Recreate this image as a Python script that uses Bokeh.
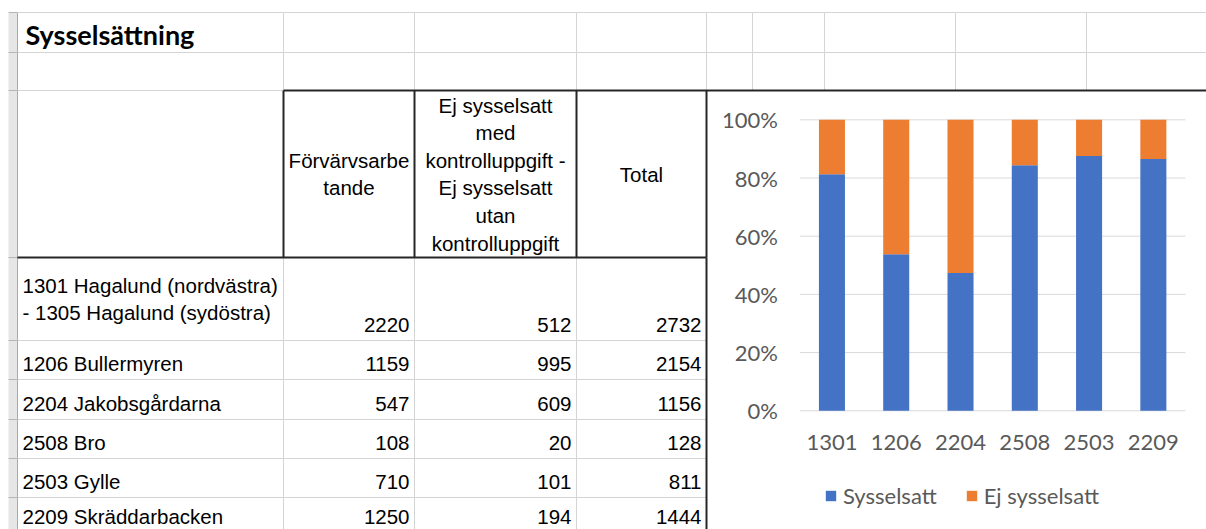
from bokeh.plotting import figure
from bokeh.models import Range1d, ColumnDataSource, Legend, LegendItem
from bokeh.core.properties import value
from bokeh.embed import file_html
from bokeh.resources import INLINE

# ---------------- data ----------------
title = "Sysselsättning"
header_b = ["Förvärvsarbe", "tande"]
header_c = ["Ej sysselsatt", "med", "kontrolluppgift -", "Ej sysselsatt", "utan", "kontrolluppgift"]
header_d = ["Total"]
area_lines = [
    ["1301 Hagalund (nordvästra)", "- 1305 Hagalund (sydöstra)"],
    ["1206 Bullermyren"],
    ["2204 Jakobsgårdarna"],
    ["2508 Bro"],
    ["2503 Gylle"],
    ["2209 Skräddarbacken"],
]
codes = ["1301", "1206", "2204", "2508", "2503", "2209"]
forvarvsarbetande = [2220, 1159, 547, 108, 710, 1250]
ej_sysselsatt = [512, 995, 609, 20, 101, 194]
total = [2732, 2154, 1156, 128, 811, 1444]
series_names = ["Sysselsatt", "Ej sysselsatt"]
pct_ticks = [0.0, 0.2, 0.4, 0.6, 0.8, 1.0]
pct_labels = ["0%", "20%", "40%", "60%", "80%", "100%"]

# ---------------- layout (sheet pixel grid) ----------------
W, H = 1206, 529
XL, XR, YT, YB = 0, W, 0, H
GUT_L, GUT_R = 8, 17
COLS = [17, 283, 414, 576, 706]
TOP_ROWS = [12, 52, 90]
HEAD_BOT = 257
ROW_BOT = [340, 379, 419, 458, 497, 536]
TEXT_MID = [324, 363, 403, 442, 481, 516]   # vertical text positions of the body rows
EXTRA_V = [752, 824, 955, 1086]
LIGHT = "#d4d4d4"
DARK = "#262626"
BLUE, ORANGE = "#4472C4", "#ED7D31"
AXIS_TXT = "#595959"
TFONT = value("Liberation Sans")
TSIZE = "20.5px"
CFONT = value("Lato")

p = figure(width=W, height=H, x_range=Range1d(XL, XR), y_range=Range1d(YB, YT),
           x_axis_type=None, y_axis_type=None, toolbar_location=None,
           output_backend="svg", min_border=0, outline_line_color=None,
           background_fill_color="white", border_fill_color="white")
p.grid.visible = False

# row-header gutter
p.quad(left=[GUT_L], right=[GUT_R], top=[12], bottom=[540], fill_color="#e6e6e6", line_color=None)
gut_rows = TOP_ROWS + [HEAD_BOT] + ROW_BOT[:-1]
p.segment(x0=[GUT_L] * len(gut_rows), x1=[GUT_R] * len(gut_rows), y0=gut_rows, y1=gut_rows,
          line_color="#b4b4b4", line_width=1)
p.segment(x0=[GUT_R], x1=[GUT_R], y0=[12], y1=[540], line_color="#a8a8a8", line_width=1)

# light sheet gridlines
hx0, hx1, hy = [], [], []
for y in TOP_ROWS[:2]:
    hx0.append(GUT_R); hx1.append(XR); hy.append(y)
hx0.append(GUT_R); hx1.append(COLS[1]); hy.append(TOP_ROWS[2])
for y in ROW_BOT[:-1]:
    hx0.append(GUT_R); hx1.append(COLS[4]); hy.append(y)
p.segment(x0=hx0, x1=hx1, y0=hy, y1=hy, line_color=LIGHT, line_width=1)
vx = COLS[1:] + EXTRA_V
p.segment(x0=vx, x1=vx, y0=[TOP_ROWS[0]] * len(vx), y1=[TOP_ROWS[2]] * len(vx),
          line_color=LIGHT, line_width=1)
vx2 = COLS[1:4]
p.segment(x0=vx2, x1=vx2, y0=[HEAD_BOT] * 3, y1=[540] * 3, line_color=LIGHT, line_width=1)

# dark borders (header box + chart frame)
p.segment(x0=COLS[1:], x1=COLS[1:], y0=[90] * 4, y1=[HEAD_BOT] * 4, line_color=DARK, line_width=2)
p.segment(x0=[COLS[1], GUT_R, COLS[4]], x1=[XR, COLS[4], COLS[4]],
          y0=[90, HEAD_BOT, HEAD_BOT], y1=[90, HEAD_BOT, 540], line_color=DARK, line_width=2)

# title
p.text(x=[25], y=[34], text=[title], text_font=CFONT, text_font_style="bold",
       text_font_size="27px", text_color="black", text_align="left", text_baseline="middle")

# header texts (vertically centred, wrapped)
LS = 27.6
def centered_lines(lines, cx, cy):
    n = len(lines)
    ys = [cy + (i - (n - 1) / 2) * LS for i in range(n)]
    p.text(x=[cx] * n, y=ys, text=lines, text_font=TFONT, text_font_size=TSIZE,
           text_color="black", text_align="center", text_baseline="middle")

hc = (90 + HEAD_BOT) / 2
centered_lines(header_b, (COLS[1] + COLS[2]) / 2, hc)
centered_lines(header_c, (COLS[2] + COLS[3]) / 2, hc)
centered_lines(header_d, (COLS[3] + COLS[4]) / 2, hc)

# body texts
tops = [HEAD_BOT] + ROW_BOT[:-1]
lx, ly, lt = [], [], []
for i, lines in enumerate(area_lines):
    n = len(lines)
    if n == 1:
        lx.append(22); ly.append(TEXT_MID[i]); lt.append(lines[0])
    else:
        cy = (tops[i] + ROW_BOT[i]) / 2
        for j, s in enumerate(lines):
            lx.append(22); ly.append(cy + (j - (n - 1) / 2) * 27); lt.append(s)
p.text(x=lx, y=ly, text=lt, text_font=TFONT, text_font_size=TSIZE, text_color="black",
       text_align="left", text_baseline="middle")
for vals, right in ((forvarvsarbetande, 409), (ej_sysselsatt, 571), (total, 701)):
    p.text(x=[right] * len(vals), y=TEXT_MID, text=[str(v) for v in vals], text_font=TFONT,
           text_font_size=TSIZE, text_color="black", text_align="right", text_baseline="middle")

# ---------------- chart (100% stacked columns) ----------------
PL, PR, PB, PT = 799.3, 1185.0, 410.3, 119.3
n = len(codes)
cw = (PR - PL) / n
ph = PB - PT
p.extra_x_ranges = {"cat": Range1d(start=(XL - PL) / cw, end=(XR - PL) / cw)}
p.extra_y_ranges = {"pct": Range1d(start=(PB - YB) / ph, end=(PB - YT) / ph)}

p.segment(x0=[0] * len(pct_ticks), x1=[n] * len(pct_ticks), y0=pct_ticks, y1=pct_ticks,
          x_range_name="cat", y_range_name="pct", line_color="#d9d9d9", line_width=1)

share_s = [f / (f + e) for f, e in zip(forvarvsarbetande, ej_sysselsatt)]
share_e = [e / (f + e) for f, e in zip(forvarvsarbetande, ej_sysselsatt)]
src = ColumnDataSource(dict(x=[i + 0.5 for i in range(n)], code=codes, s=share_s, e=share_e))
rs = p.vbar_stack(["s", "e"], x="x", width=0.405, color=[BLUE, ORANGE], line_color=None,
                  source=src, x_range_name="cat", y_range_name="pct")

p.text(x=[0] * len(pct_ticks), y=pct_ticks, text=pct_labels, x_offset=-22, y_offset=0,
       x_range_name="cat", y_range_name="pct", text_font=CFONT, text_font_size="22px",
       text_color=AXIS_TXT, text_align="right", text_baseline="middle")
p.text(x="x", y=0, text="code", source=src, y_offset=32, x_range_name="cat", y_range_name="pct",
       text_font=CFONT, text_font_size="22px", text_color=AXIS_TXT, text_align="center",
       text_baseline="middle")

legend = Legend(items=[LegendItem(label=series_names[0], renderers=[rs[0]]),
                       LegendItem(label=series_names[1], renderers=[rs[1]])],
                orientation="horizontal", location=(824, 20), glyph_width=13, glyph_height=13,
                label_standoff=6, spacing=28, padding=0, margin=0, border_line_color=None,
                background_fill_alpha=0, label_text_font="Lato", label_text_font_size="22px",
                label_text_color=AXIS_TXT, label_text_baseline="middle")
p.add_layout(legend)

open("out.html", "w").write(file_html(p, INLINE))
